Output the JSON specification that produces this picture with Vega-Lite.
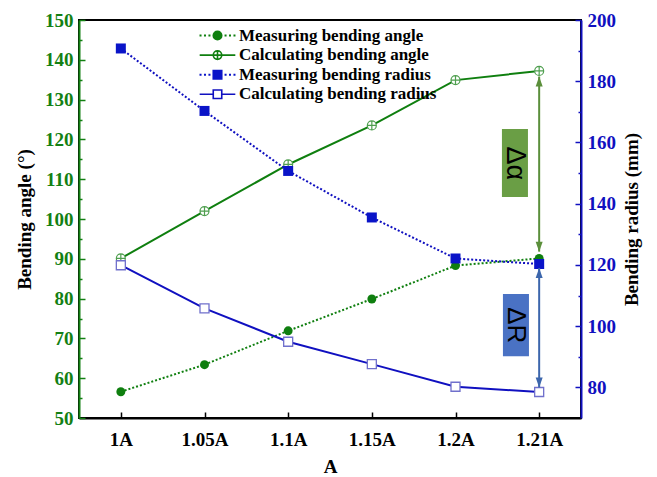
{
  "$schema": "https://vega.github.io/schema/vega-lite/v6.json",
  "width": 502,
  "height": 398,
  "autosize": {"type": "none"},
  "padding": {"left": 79, "top": 20, "right": 76, "bottom": 59},
  "config": {"view": {"stroke": "#000000", "strokeWidth": 2}, "font": "Liberation Serif"},
  "datasets": {
    "angle": [
      {"i": 0, "series": "Measuring bending angle", "v": 56.6},
      {"i": 1, "series": "Measuring bending angle", "v": 63.4},
      {"i": 2, "series": "Measuring bending angle", "v": 71.9},
      {"i": 3, "series": "Measuring bending angle", "v": 79.9},
      {"i": 4, "series": "Measuring bending angle", "v": 88.3},
      {"i": 5, "series": "Measuring bending angle", "v": 90.1},
      {"i": 0, "series": "Calculating bending angle", "v": 90.1},
      {"i": 1, "series": "Calculating bending angle", "v": 102.0},
      {"i": 2, "series": "Calculating bending angle", "v": 113.7},
      {"i": 3, "series": "Calculating bending angle", "v": 123.5},
      {"i": 4, "series": "Calculating bending angle", "v": 134.9},
      {"i": 5, "series": "Calculating bending angle", "v": 137.2}
    ],
    "radius": [
      {"i": 0, "series": "Measuring bending radius", "v": 190.7},
      {"i": 1, "series": "Measuring bending radius", "v": 170.3},
      {"i": 2, "series": "Measuring bending radius", "v": 150.7},
      {"i": 3, "series": "Measuring bending radius", "v": 135.5},
      {"i": 4, "series": "Measuring bending radius", "v": 122.1},
      {"i": 5, "series": "Measuring bending radius", "v": 120.3},
      {"i": 0, "series": "Calculating bending radius", "v": 119.9},
      {"i": 1, "series": "Calculating bending radius", "v": 105.8},
      {"i": 2, "series": "Calculating bending radius", "v": 94.9},
      {"i": 3, "series": "Calculating bending radius", "v": 87.6},
      {"i": 4, "series": "Calculating bending radius", "v": 80.2},
      {"i": 5, "series": "Calculating bending radius", "v": 78.5}
    ]
  },
  "layer": [
    {
      "data": {"name": "angle"},
      "encoding": {
        "x": {
          "field": "i", "type": "quantitative",
          "scale": {"domain": [-0.5, 5.5], "nice": false, "zero": false},
          "axis": {
            "orient": "bottom", "values": [0, 1, 2, 3, 4, 5],
            "labelExpr": "['1A','1.05A','1.1A','1.15A','1.2A','1.21A'][datum.value]",
            "title": "A", "titleFont": "Liberation Serif", "titleFontSize": 19, "titleFontWeight": "bold", "titleColor": "#000000", "titlePadding": 8,
            "labelFont": "Liberation Serif", "labelFontSize": 19, "labelFontWeight": "bold", "labelColor": "#000000", "labelPadding": 18,
            "domainColor": "#000000", "domainWidth": 2, "tickColor": "#000000", "tickWidth": 1.5, "tickSize": -6,
            "grid": false, "labelFlush": false, "labelOverlap": false
          }
        },
        "y": {
          "field": "v", "type": "quantitative",
          "scale": {"domain": [50, 150], "nice": false, "zero": false},
          "axis": {
            "orient": "left",
            "values": [50, 55, 60, 65, 70, 75, 80, 85, 90, 95, 100, 105, 110, 115, 120, 125, 130, 135, 140, 145, 150],
            "labelExpr": "datum.value % 10 === 0 ? datum.label : ''",
            "title": "Bending angle (°)", "titleFont": "Liberation Serif", "titleFontSize": 19, "titleFontWeight": "bold", "titleColor": "#000000", "titlePadding": 10,
            "labelFont": "Liberation Serif", "labelFontSize": 19, "labelFontWeight": "bold", "labelColor": "#138013", "labelPadding": 12,
            "domainColor": "#138013", "domainWidth": 2, "tickColor": "#138013", "tickWidth": 1.5,
            "tickSize": {"condition": {"test": "datum.value % 10 === 0", "value": -6}, "value": -3},
            "grid": false, "labelFlush": false, "labelOverlap": false
          }
        }
      },
      "layer": [
        {"transform": [{"filter": "datum.series === 'Measuring bending angle'"}], "mark": {"type": "line", "color": "#0f7f0f", "strokeWidth": 2, "strokeDash": [2, 2]}},
        {"transform": [{"filter": "datum.series === 'Calculating bending angle'"}], "mark": {"type": "line", "color": "#0f7f0f", "strokeWidth": 2}},
        {"transform": [{"filter": "datum.series === 'Measuring bending angle'"}], "mark": {"type": "circle", "color": "#0f7f0f", "size": 80, "opacity": 1}},
        {"transform": [{"filter": "datum.series === 'Calculating bending angle'"}], "mark": {"type": "point", "shape": "M-1,0A1,1 0 1,1 1,0A1,1 0 1,1 -1,0ZM-1,0H1M0,-1V1", "size": 81, "filled": false, "fill": "#ffffff", "stroke": "#4f9f4f", "strokeWidth": 1.2, "opacity": 1}},
        {"data": {"values": [{"i": 5, "v": 135.8, "v2": 91.8}]}, "mark": {"type": "rule", "color": "#5b8f3b", "strokeWidth": 2}, "encoding": {"y2": {"field": "v2"}}},
        {"data": {"values": [{"i": 5, "v": 135.8, "v2": 91.8}]}, "mark": {"type": "point", "shape": "M0,0L0.7,2L-0.7,2Z", "size": 100, "filled": true, "color": "#5b8f3b", "opacity": 1}},
        {"data": {"values": [{"i": 5, "v": 135.8, "v2": 91.8}]}, "mark": {"type": "point", "shape": "M0,0L0.7,-2L-0.7,-2Z", "size": 100, "filled": true, "color": "#5b8f3b", "opacity": 1}, "encoding": {"y": {"field": "v2", "type": "quantitative"}}},
        {"data": {"values": [{"i": 4.555, "i2": 4.866, "v": 122.6, "v2": 105.5}]}, "mark": {"type": "rect", "color": "#6a9e45", "opacity": 1}, "encoding": {"x2": {"field": "i2"}, "y2": {"field": "v2"}}},
        {"data": {"values": [{"i": 4.71, "v": 114.0, "label": "Δα"}]}, "mark": {"type": "text", "angle": 90, "font": "Liberation Sans", "fontSize": 27, "color": "#000000", "align": "center", "baseline": "middle"}, "encoding": {"text": {"field": "label"}}}
      ]
    },
    {
      "data": {"name": "radius"},
      "encoding": {
        "x": {
          "field": "i", "type": "quantitative",
          "scale": {"domain": [-0.5, 5.5], "nice": false, "zero": false},
          "axis": {
            "orient": "bottom", "values": [0, 1, 2, 3, 4, 5],
            "labelExpr": "['1A','1.05A','1.1A','1.15A','1.2A','1.21A'][datum.value]",
            "title": "A", "titleFont": "Liberation Serif", "titleFontSize": 19, "titleFontWeight": "bold", "titleColor": "#000000", "titlePadding": 8,
            "labelFont": "Liberation Serif", "labelFontSize": 19, "labelFontWeight": "bold", "labelColor": "#000000", "labelPadding": 18,
            "domainColor": "#000000", "domainWidth": 2, "tickColor": "#000000", "tickWidth": 1.5, "tickSize": -6,
            "grid": false, "labelFlush": false, "labelOverlap": false
          }
        },
        "y": {
          "field": "v", "type": "quantitative",
          "scale": {"domain": [70, 200], "nice": false, "zero": false},
          "axis": {
            "orient": "right",
            "values": [80, 90, 100, 110, 120, 130, 140, 150, 160, 170, 180, 190, 200],
            "labelExpr": "datum.value % 20 === 0 ? datum.label : ''",
            "title": "Bending radius (mm)", "titleFont": "Liberation Serif", "titleFontSize": 19, "titleFontWeight": "bold", "titleColor": "#000000", "titlePadding": 26, "titleAngle": 270,
            "labelFont": "Liberation Serif", "labelFontSize": 19, "labelFontWeight": "bold", "labelColor": "#1010c0", "labelPadding": 12,
            "domainColor": "#1010c0", "domainWidth": 2, "tickColor": "#1010c0", "tickWidth": 1.5,
            "tickSize": {"condition": {"test": "datum.value % 20 === 0", "value": -6}, "value": -3},
            "grid": false, "labelFlush": false, "labelOverlap": false
          }
        }
      },
      "layer": [
        {"transform": [{"filter": "datum.series === 'Measuring bending radius'"}], "mark": {"type": "line", "color": "#1010c0", "strokeWidth": 2, "strokeDash": [2, 2]}},
        {"transform": [{"filter": "datum.series === 'Calculating bending radius'"}], "mark": {"type": "line", "color": "#1010c0", "strokeWidth": 2}},
        {"transform": [{"filter": "datum.series === 'Measuring bending radius'"}], "mark": {"type": "square", "color": "#0a14c8", "size": 100, "opacity": 1}},
        {"transform": [{"filter": "datum.series === 'Calculating bending radius'"}], "mark": {"type": "point", "shape": "square", "size": 81, "filled": false, "fill": "#ffffff", "stroke": "#7070cc", "strokeWidth": 1.3, "opacity": 1}},
        {"data": {"values": [{"i": 5, "v": 119.0, "v2": 80.0}]}, "mark": {"type": "rule", "color": "#3c66ac", "strokeWidth": 2}, "encoding": {"y2": {"field": "v2"}}},
        {"data": {"values": [{"i": 5, "v": 119.0, "v2": 80.0}]}, "mark": {"type": "point", "shape": "M0,0L0.7,2L-0.7,2Z", "size": 100, "filled": true, "color": "#3c66ac", "opacity": 1}},
        {"data": {"values": [{"i": 5, "v": 119.0, "v2": 80.0}]}, "mark": {"type": "point", "shape": "M0,0L0.7,-2L-0.7,-2Z", "size": 100, "filled": true, "color": "#3c66ac", "opacity": 1}, "encoding": {"y": {"field": "v2", "type": "quantitative"}}},
        {"data": {"values": [{"i": 4.567, "i2": 4.878, "v": 110.5, "v2": 90.2}]}, "mark": {"type": "rect", "color": "#4a72c4", "opacity": 1}, "encoding": {"x2": {"field": "i2"}, "y2": {"field": "v2"}}},
        {"data": {"values": [{"i": 4.72, "v": 100.3, "label": "ΔR"}]}, "mark": {"type": "text", "angle": 90, "font": "Liberation Sans", "fontSize": 26, "color": "#000000", "align": "center", "baseline": "middle"}, "encoding": {"text": {"field": "label"}}}
      ]
    },
    {
      "data": {"values": [
        {"series": "Measuring bending angle"},
        {"series": "Calculating bending angle"},
        {"series": "Measuring bending radius"},
        {"series": "Calculating bending radius"}
      ]},
      "mark": {"type": "point", "filled": true, "opacity": 0},
      "encoding": {
        "shape": {
          "field": "series", "type": "nominal",
          "scale": {
            "domain": ["Measuring bending angle", "Calculating bending angle", "Measuring bending radius", "Calculating bending radius"],
            "range": [
              "M-1,0A1,1 0 1,1 1,0A1,1 0 1,1 -1,0ZM-4.05,-0.05h0.1v0.1h-0.1ZM-3,-0.05h0.1v0.1h-0.1ZM-1.95,-0.05h0.1v0.1h-0.1ZM1.85,-0.05h0.1v0.1h-0.1ZM2.9,-0.05h0.1v0.1h-0.1ZM3.95,-0.05h0.1v0.1h-0.1Z",
              "M-1,0A1,1 0 1,1 1,0A1,1 0 1,1 -1,0ZM-1,0H1M0,-1V1M-4.2,0H-1M1,0H4.2",
              "M-1,-1H1V1H-1ZM-4.05,-0.05h0.1v0.1h-0.1ZM-3,-0.05h0.1v0.1h-0.1ZM-1.95,-0.05h0.1v0.1h-0.1ZM1.85,-0.05h0.1v0.1h-0.1ZM2.9,-0.05h0.1v0.1h-0.1ZM3.95,-0.05h0.1v0.1h-0.1Z",
              "M-1,-1H1V1H-1ZM-4.2,0H-1M1,0H4.2"
            ]
          },
          "legend": {"title": null, "orient": "none", "legendX": 130, "legendY": 7, "padding": 0, "symbolSize": 72, "symbolStrokeWidth": 1.6, "symbolOpacity": 1, "labelFont": "Liberation Serif", "labelFontSize": 17, "labelFontWeight": "bold", "labelColor": "#000000", "labelOffset": 13, "rowPadding": 1.6, "labelLimit": 400}
        },
        "stroke": {
          "field": "series", "type": "nominal",
          "scale": {
            "domain": ["Measuring bending angle", "Calculating bending angle", "Measuring bending radius", "Calculating bending radius"],
            "range": ["#0f7f0f", "#0f7f0f", "#0a14c8", "#1010c0"]
          },
          "legend": {"title": null, "orient": "none", "legendX": 130, "legendY": 7, "padding": 0, "symbolSize": 72, "symbolStrokeWidth": 1.6, "symbolOpacity": 1, "labelFont": "Liberation Serif", "labelFontSize": 17, "labelFontWeight": "bold", "labelColor": "#000000", "labelOffset": 13, "rowPadding": 1.6, "labelLimit": 400}
        },
        "fill": {
          "field": "series", "type": "nominal",
          "scale": {
            "domain": ["Measuring bending angle", "Calculating bending angle", "Measuring bending radius", "Calculating bending radius"],
            "range": ["#0f7f0f", "#ffffff", "#0a14c8", "#ffffff"]
          },
          "legend": {"title": null, "orient": "none", "legendX": 130, "legendY": 7, "padding": 0, "symbolSize": 72, "symbolStrokeWidth": 1.6, "symbolOpacity": 1, "labelFont": "Liberation Serif", "labelFontSize": 17, "labelFontWeight": "bold", "labelColor": "#000000", "labelOffset": 13, "rowPadding": 1.6, "labelLimit": 400}
        }
      }
    }
  ],
  "resolve": {"scale": {"y": "independent"}}
}
